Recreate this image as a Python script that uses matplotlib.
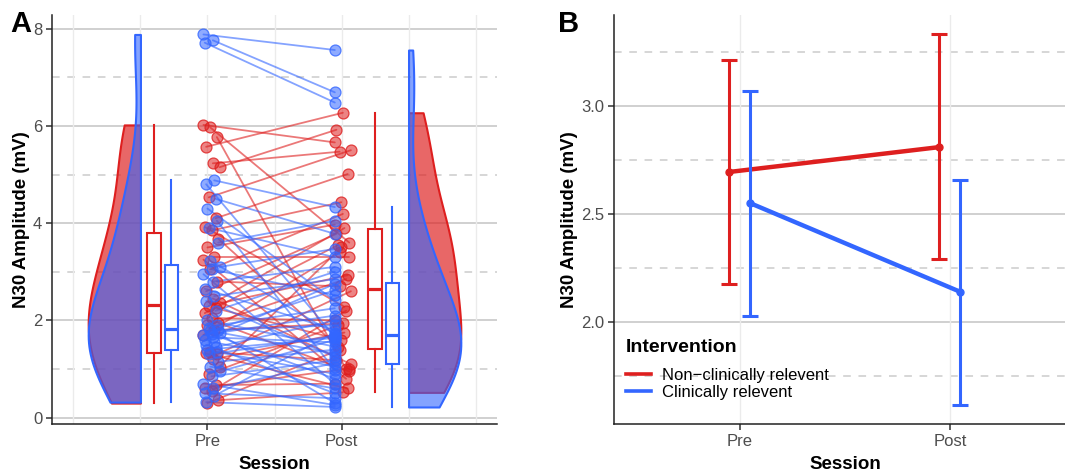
import matplotlib.pyplot as plt
import numpy as np
from matplotlib.colors import to_rgba
from matplotlib.lines import Line2D

plt.rcParams['font.family'] = ['Liberation Sans', 'DejaVu Sans']

sessions = ['Pre', 'Post']
groups = ['Non\u2212clinically relevent', 'Clinically relevent']

# N30 amplitude (mV) per participant, paired Pre/Post
red_pre = [6.02, 5.97, 5.77, 5.57, 5.23, 5.15, 4.53, 4.10, 3.92, 3.85, 3.68, 3.50, 3.30,
           3.25, 3.05, 2.80, 2.60, 2.45, 2.35, 2.30, 2.25, 2.15, 2.05, 1.95, 1.90, 1.80,
           1.70, 1.35, 1.30, 1.32, 1.20, 1.05, 0.90, 0.67, 0.62, 0.55, 0.36, 0.30]
red_post = [5.66, 3.60, 1.00, 6.27, 5.47, 5.92, 5.50, 5.01, 2.28, 4.43, 1.46, 3.97, 3.30,
            0.80, 4.19, 2.70, 3.78, 1.10, 2.93, 3.90, 1.60, 3.55, 2.00, 0.95, 2.85, 1.94,
            3.40, 1.18, 2.60, 0.60, 1.75, 3.50, 1.90, 0.70, 1.01, 2.20, 0.52, 1.40]
blue_pre = [7.88, 7.76, 7.71, 4.88, 4.80, 4.50, 4.30, 4.05, 3.90, 3.60, 3.23, 3.10, 3.05,
            2.95, 2.80, 2.65, 2.50, 2.40, 2.20, 2.00, 1.90, 1.85, 1.80, 1.78, 1.75, 1.72,
            1.70, 1.65, 1.60, 1.55, 1.50, 1.45, 1.40, 1.35, 1.30, 1.15, 1.05, 0.95, 0.85,
            0.70, 0.60, 0.50, 0.45, 0.32]
blue_post = [7.56, 6.69, 6.48, 4.33, 1.66, 3.78, 2.41, 0.98, 3.30, 4.05, 1.72, 3.47, 2.52,
             0.70, 3.10, 1.80, 2.85, 1.25, 3.00, 1.46, 2.25, 0.30, 1.90, 2.62, 1.32, 0.80,
             2.10, 1.55, 2.75, 1.05, 0.50, 2.00, 1.64, 0.90, 1.68, 1.40, 0.60, 1.60, 1.18,
             0.26, 1.12, 0.40, 1.75, 0.22]

# group means with error bar limits
red_mean = [2.695, 2.81]
red_low = [2.175, 2.29]
red_high = [3.215, 3.335]
blue_mean = [2.55, 2.14]
blue_low = [2.03, 1.615]
blue_high = [3.07, 2.66]

RED = '#DE1F1F'
BLUE = '#3366FF'
TXT = '#4D4D4D'

fig = plt.figure(figsize=(10.65, 4.74), dpi=100)
W, H = 1065, 474
axA = fig.add_axes([52 / W, 50 / H, 445 / W, 409 / H])
axB = fig.add_axes([614 / W, 50 / H, 462 / W, 409 / H])


def base_style(ax, major, minor, vlines):
    for y in major:
        ax.axhline(y, color='#C8C8C8', lw=1.2, zorder=0)
    for y in minor:
        ax.axhline(y, color='#CCCCCC', lw=1.1, ls=(0, (5, 5)), zorder=0)
    for x in vlines:
        ax.axvline(x, color='#EBEBEB', lw=1.0, zorder=0)
    for s in ['top', 'right']:
        ax.spines[s].set_visible(False)
    for s in ['left', 'bottom']:
        ax.spines[s].set_linewidth(1.1)
        ax.spines[s].set_color('#222222')
    ax.tick_params(length=4, width=1.1, color='#333333', labelsize=12,
                   labelcolor=TXT, pad=3)
    ax.set_xticks([1, 2])
    ax.set_xticklabels(sessions)
    ax.set_xlabel('Session', fontsize=13.5, fontweight='bold', labelpad=5)
    ax.set_ylabel('N30 Amplitude (mV)', fontsize=13.5, fontweight='bold', labelpad=2)


# ---- A: raincloud ----
base_style(axA, [0, 2, 4, 6, 8], [1, 3, 5, 7], [0, 0.5, 1, 1.5, 2, 2.5, 3])
axA.set_xlim(-0.16, 3.16)
axA.set_ylim(-0.13, 8.28)
axA.set_yticks([0, 2, 4, 6, 8])


def half_violin(ax, data, pos, side, color, alpha):
    parts = ax.violinplot([data], positions=[pos], widths=0.78, side=side,
                          showextrema=False, bw_method=0.55)
    body = parts['bodies'][0]
    body.set_alpha(None)
    body.set_facecolor(to_rgba(color, alpha))
    body.set_edgecolor(color)
    body.set_linewidth(1.5)
    body.set_zorder(2)


half_violin(axA, red_pre, 0.5, 'low', RED, 0.68)
half_violin(axA, blue_pre, 0.5, 'low', BLUE, 0.6)
half_violin(axA, red_post, 2.5, 'high', RED, 0.68)
half_violin(axA, blue_post, 2.5, 'high', BLUE, 0.6)


def box(ax, data, pos, color):
    ax.boxplot([data], positions=[pos], widths=0.1, showfliers=False, showcaps=False,
               patch_artist=True, manage_ticks=False, zorder=3,
               boxprops=dict(facecolor='white', edgecolor=color, lw=1.5),
               whiskerprops=dict(color=color, lw=1.5),
               medianprops=dict(color=color, lw=2.3))


box(axA, red_pre, 0.6, RED)
box(axA, blue_pre, 0.73, BLUE)
box(axA, red_post, 2.25, RED)
box(axA, blue_post, 2.38, BLUE)


def paired(ax, pre, post, color, step):
    n = len(pre)
    idx = np.arange(n)
    jp = 0.03 + ((idx * step) % 13 - 6) / 6 * 0.06
    jq = 0.01 + ((idx * (step + 4)) % 11 - 5) / 5 * 0.06
    for i in range(n):
        ax.plot([1 + jp[i], 2 + jq[i]], [pre[i], post[i]], color=color, alpha=0.6,
                lw=1.3, zorder=4, solid_capstyle='round')
    for xs, ys in [(1 + jp, pre), (2 + jq, post)]:
        ax.scatter(xs, ys, s=62, facecolor=to_rgba(color, 0.55),
                   edgecolor=to_rgba(color, 0.8), lw=0.9, zorder=5)


paired(axA, red_pre, red_post, RED, 5)
paired(axA, blue_pre, blue_post, BLUE, 7)

# ---- B: group means ----
base_style(axB, [2.0, 2.5, 3.0], [1.75, 2.25, 2.75, 3.25], [1, 2])
axB.set_xlim(0.4, 2.6)
axB.set_ylim(1.529, 3.421)
axB.set_yticks([2.0, 2.5, 3.0])
axB.set_yticklabels(['2.0', '2.5', '3.0'])

x = np.array([1, 2])
for mean, lo, hi, color, dx in [(red_mean, red_low, red_high, RED, -0.05),
                                (blue_mean, blue_low, blue_high, BLUE, 0.05)]:
    mean, lo, hi = np.array(mean), np.array(lo), np.array(hi)
    axB.plot(x + dx, mean, color=color, lw=3.2, zorder=3)
    axB.errorbar(x + dx, mean, yerr=[mean - lo, hi - mean], fmt='o', ms=5,
                 color=color, ecolor=color, elinewidth=2.2, capsize=5.5,
                 capthick=2.2, zorder=4)

handles = [Line2D([], [], color=RED, lw=2.6), Line2D([], [], color=BLUE, lw=2.6)]
leg = axB.legend(handles, groups, title='Intervention', loc='lower left',
                 bbox_to_anchor=(0.0, 0.03), frameon=False, fontsize=12,
                 title_fontproperties={'weight': 'bold', 'size': 14},
                 handlelength=1.5, handletextpad=0.7, labelspacing=0.15,
                 borderaxespad=0.3, alignment='left')
leg._legend_box.sep = 8

fig.text(10 / W, 1 - 24 / H, 'A', fontsize=21, fontweight='bold', va='center')
fig.text(558 / W, 1 - 24 / H, 'B', fontsize=21, fontweight='bold', va='center')

fig.savefig('out.png', dpi=100)
